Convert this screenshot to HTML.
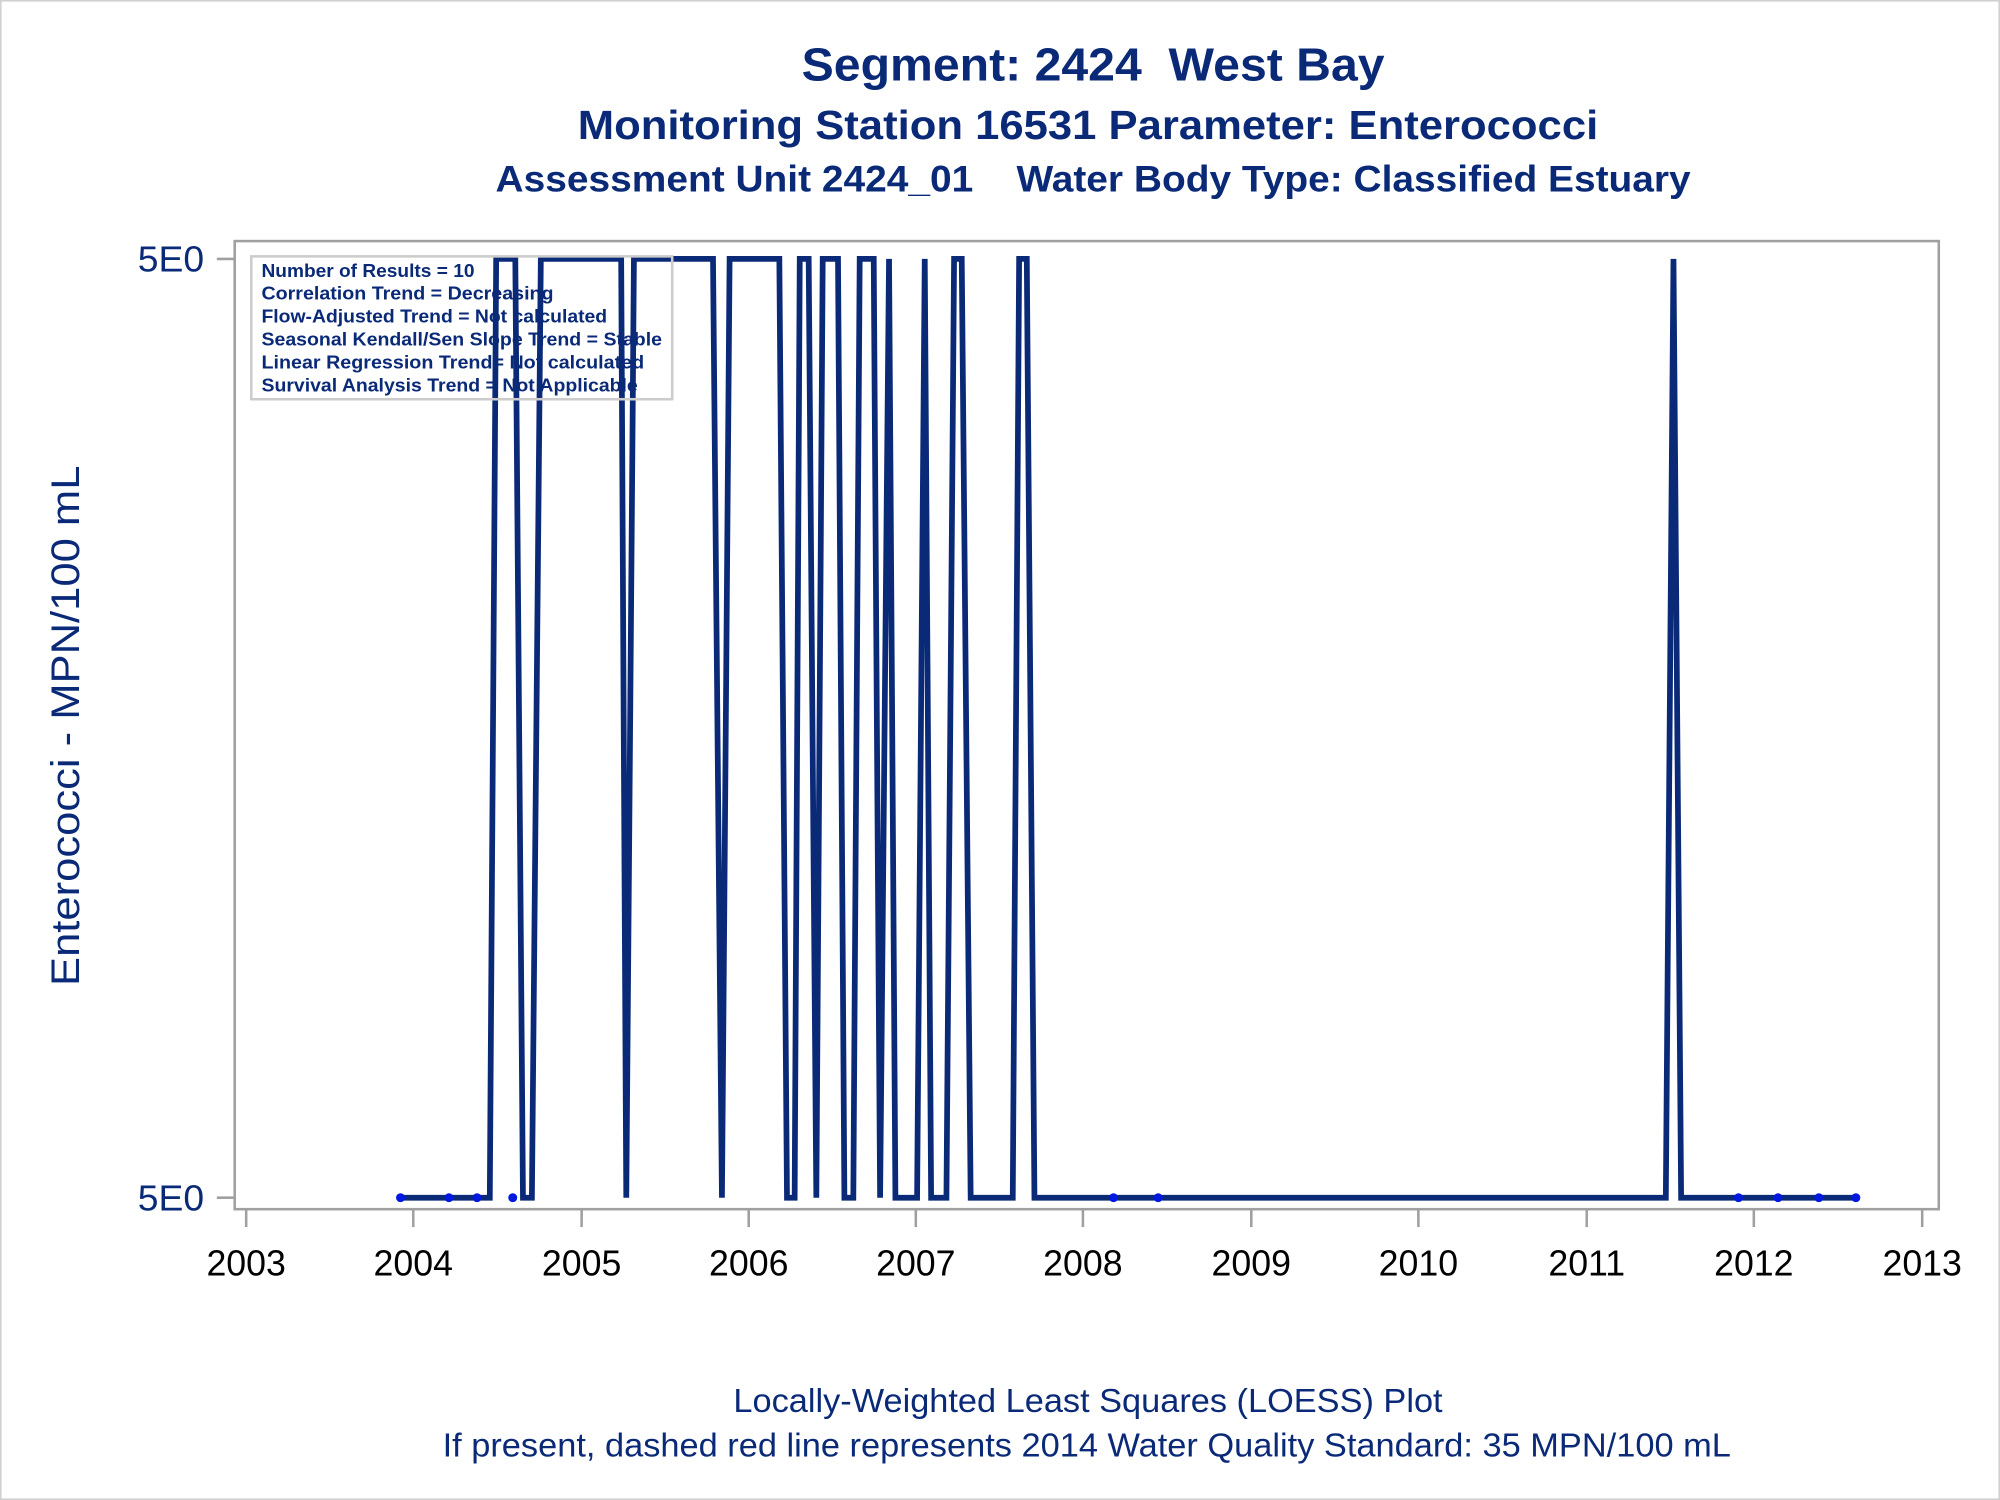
<!DOCTYPE html>
<html><head><meta charset="utf-8"><style>html,body{margin:0;padding:0;background:#fff}svg{display:block}text{white-space:pre}</style></head><body>
<svg width="2000" height="1500" viewBox="0 0 1568 1176" xmlns="http://www.w3.org/2000/svg" font-family="Liberation Sans, Arial, sans-serif">
<rect x="0.5" y="0.5" width="1567" height="1175" fill="#fff" stroke="#d0d0d0" stroke-width="1.5"/>
<g fill="#0a2a78" font-weight="bold" text-anchor="middle">
<text x="857" y="63" font-size="36" textLength="457" lengthAdjust="spacingAndGlyphs">Segment: 2424  West Bay</text>
<text x="853" y="109" font-size="32" textLength="800" lengthAdjust="spacingAndGlyphs">Monitoring Station 16531 Parameter: Enterococci</text>
<text x="857" y="150" font-size="29" textLength="937" lengthAdjust="spacingAndGlyphs">Assessment Unit 2424_01    Water Body Type: Classified Estuary</text>
</g>
<rect x="184" y="189" width="1336" height="759" fill="none" stroke="#a0a0a0" stroke-width="2"/>
<g stroke="#a0a0a0" stroke-width="2">
<line x1="170" y1="203" x2="184" y2="203"/><line x1="170" y1="939" x2="184" y2="939"/>
<line x1="193" y1="948" x2="193" y2="962"/><line x1="324" y1="948" x2="324" y2="962"/><line x1="456" y1="948" x2="456" y2="962"/><line x1="587" y1="948" x2="587" y2="962"/><line x1="718" y1="948" x2="718" y2="962"/><line x1="849" y1="948" x2="849" y2="962"/><line x1="981" y1="948" x2="981" y2="962"/><line x1="1112" y1="948" x2="1112" y2="962"/><line x1="1244" y1="948" x2="1244" y2="962"/><line x1="1375" y1="948" x2="1375" y2="962"/><line x1="1507" y1="948" x2="1507" y2="962"/>
</g>
<g fill="#0a2a78" font-size="28" text-anchor="end"><text x="160" y="213" textLength="52" lengthAdjust="spacingAndGlyphs">5E0</text><text x="160" y="949" textLength="52" lengthAdjust="spacingAndGlyphs">5E0</text></g>
<g fill="#000" font-size="28" text-anchor="middle">
<text x="193" y="1000">2003</text><text x="324" y="1000">2004</text><text x="456" y="1000">2005</text><text x="587" y="1000">2006</text><text x="718" y="1000">2007</text><text x="849" y="1000">2008</text><text x="981" y="1000">2009</text><text x="1112" y="1000">2010</text><text x="1244" y="1000">2011</text><text x="1375" y="1000">2012</text><text x="1507" y="1000">2013</text>
</g>
<text transform="translate(62,569) rotate(-90)" fill="#0a2a78" font-size="31" text-anchor="middle" textLength="408" lengthAdjust="spacingAndGlyphs">Enterococci - MPN/100 mL</text>
<polyline fill="none" stroke="#0a2a78" stroke-width="4.5" stroke-linejoin="miter" points="314,939 384,939 389,203 404,203 410,939 417,939 424,203 487,203 491,939 497,203 559,203 566,939 572,203 611,203 617,939 623,939 627,203 634,203 640,939 645,203 657,203 662,939 669,939 674,203 685,203 690,939 697,203 702,939 719,939 725,203 730,939 742,939 748,203 754,203 761,939 794,939 799,203 805,203 811,939 1306,939 1312,203 1318,939 1456,939"/>
<g fill="#0018e0"><circle cx="314" cy="939" r="3.5"/><circle cx="352" cy="939" r="3.5"/><circle cx="374" cy="939" r="3.5"/><circle cx="402" cy="939" r="3.5"/><circle cx="873" cy="939" r="3.5"/><circle cx="908" cy="939" r="3.5"/><circle cx="1363" cy="939" r="3.5"/><circle cx="1394" cy="939" r="3.5"/><circle cx="1426" cy="939" r="3.5"/><circle cx="1455" cy="939" r="3.5"/></g>
<rect x="197" y="201" width="330" height="112" fill="none" stroke="#cccccc" stroke-width="2"/>
<g fill="#0a2a78" font-size="14.5" font-weight="bold">
<text x="205" y="217" textLength="167" lengthAdjust="spacingAndGlyphs">Number of Results = 10</text>
<text x="205" y="235" textLength="229" lengthAdjust="spacingAndGlyphs">Correlation Trend = Decreasing</text>
<text x="205" y="253" textLength="271" lengthAdjust="spacingAndGlyphs">Flow-Adjusted Trend = Not calculated</text>
<text x="205" y="271" textLength="314" lengthAdjust="spacingAndGlyphs">Seasonal Kendall/Sen Slope Trend = Stable</text>
<text x="205" y="289" textLength="300" lengthAdjust="spacingAndGlyphs">Linear Regression Trend= Not calculated</text>
<text x="205" y="307" textLength="295" lengthAdjust="spacingAndGlyphs">Survival Analysis Trend = Not Applicable</text>
</g>
<g fill="#0a2a78" font-size="26" text-anchor="middle">
<text x="853" y="1107" textLength="556" lengthAdjust="spacingAndGlyphs">Locally-Weighted Least Squares (LOESS) Plot</text>
<text x="852" y="1142" textLength="1010" lengthAdjust="spacingAndGlyphs">If present, dashed red line represents 2014 Water Quality Standard: 35 MPN/100 mL</text>
</g>
</svg>
</body></html>
